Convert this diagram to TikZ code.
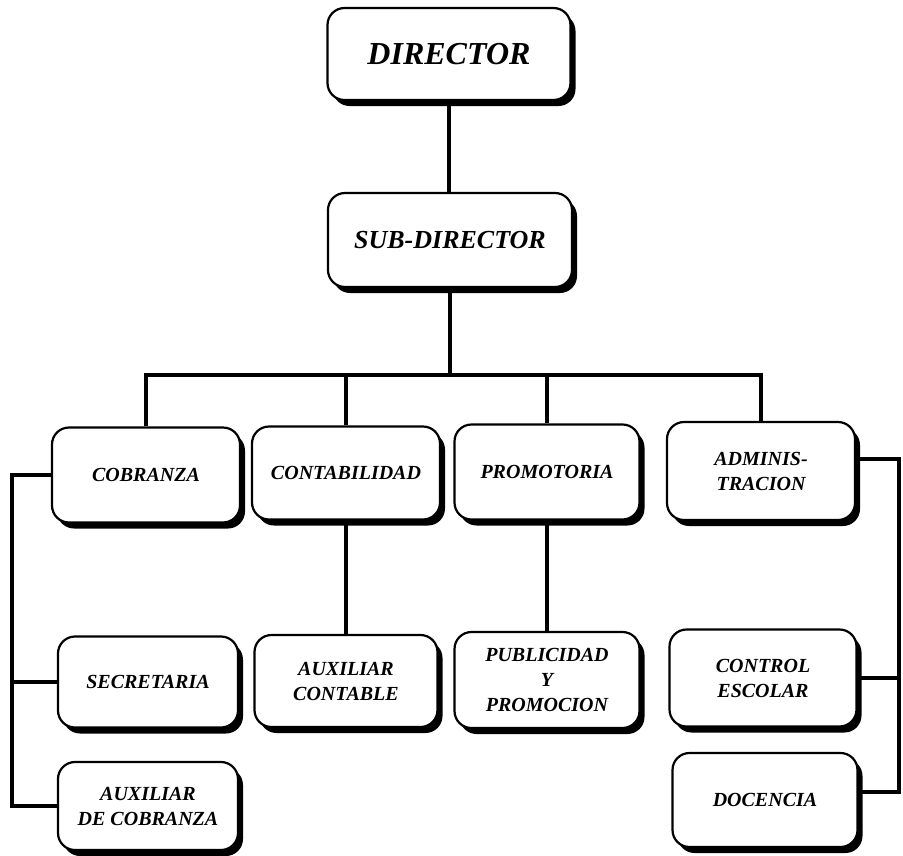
\documentclass[tikz,border=0pt]{standalone}
\usepackage{fontspec}
\setmainfont{Liberation Serif}
\usepackage{tikz}
\usetikzlibrary{shadows}

\begin{document}
\begin{tikzpicture}[x=1pt,y=-1pt,
  unit/.style={rectangle,rounded corners=17pt,draw=black,line width=2.2pt,fill=white,
    drop shadow={shadow xshift=5pt,shadow yshift=-6pt,fill=black,opacity=1},
    align=center,inner sep=2pt,font=\fontsize{20pt}{25pt}\selectfont\bfseries\itshape},
  link/.style={draw=black,line width=3.4pt}]
\useasboundingbox (0,0) rectangle (903,855);
% top of the chart
\node[unit,minimum width=243pt,minimum height=92pt,font=\fontsize{32pt}{36pt}\selectfont\bfseries\itshape] (dir) at (449,54) {DIRECTOR};
\node[unit,minimum width=244pt,minimum height=94pt,font=\fontsize{26pt}{30pt}\selectfont\bfseries\itshape] (sub) at (450,240) {SUB-DIRECTOR};
\coordinate (bus) at (450,375);
% departments
\node[unit,minimum width=188pt,minimum height=95pt] (cob) at (146,475) {COBRANZA};
\node[unit,minimum width=188pt,minimum height=93pt] (cont) at (346,473) {CONTABILIDAD};
\node[unit,minimum width=185pt,minimum height=95pt] (prom) at (547,472) {PROMOTORIA};
\node[unit,minimum width=188pt,minimum height=98pt] (adm) at (761,471) {ADMINIS-\\TRACION};
% second level
\node[unit,minimum width=180pt,minimum height=91pt] (sec) at (148,682) {SECRETARIA};
\node[unit,minimum width=183pt,minimum height=92pt] (auxc) at (346,681) {AUXILIAR\\CONTABLE};
\node[unit,minimum width=185pt,minimum height=96pt] (pub) at (547,680) {PUBLICIDAD\\Y\\PROMOCION};
\node[unit,minimum width=187pt,minimum height=97pt] (ctrl) at (763,678) {CONTROL\\ESCOLAR};
\node[unit,minimum width=180pt,minimum height=88pt] (auxcob) at (148,806) {AUXILIAR\\DE COBRANZA};
\node[unit,minimum width=185pt,minimum height=94pt] (doc) at (765,800) {DOCENCIA};
\coordinate (lft) at (12,0);
\coordinate (rgt) at (899,0);
\coordinate (adme) at ([yshift=12pt]adm.east);
\coordinate (doce) at ([yshift=8pt]doc.east);
% connectors
\draw[link] (dir.south) -- (dir.south |- sub.north);
\draw[link] (sub.south) -- (bus);
\draw[link] (cob.north) |- (bus) -| (adm.north);
\draw[link] (cont.north) -- (cont.north |- bus);
\draw[link] (prom.north) -- (prom.north |- bus);
\draw[link] (cont.south) -- (auxc.north);
\draw[link] (prom.south) -- (pub.north);
\draw[link] (cob.west) -| (lft |- auxcob.west) -- (auxcob.west);
\draw[link] (sec.west) -- (sec.west -| lft);
\draw[link] (adme) -| (rgt |- doce) -- (doce);
\draw[link] (ctrl.east) -- (ctrl.east -| rgt);
\end{tikzpicture}
\end{document}
